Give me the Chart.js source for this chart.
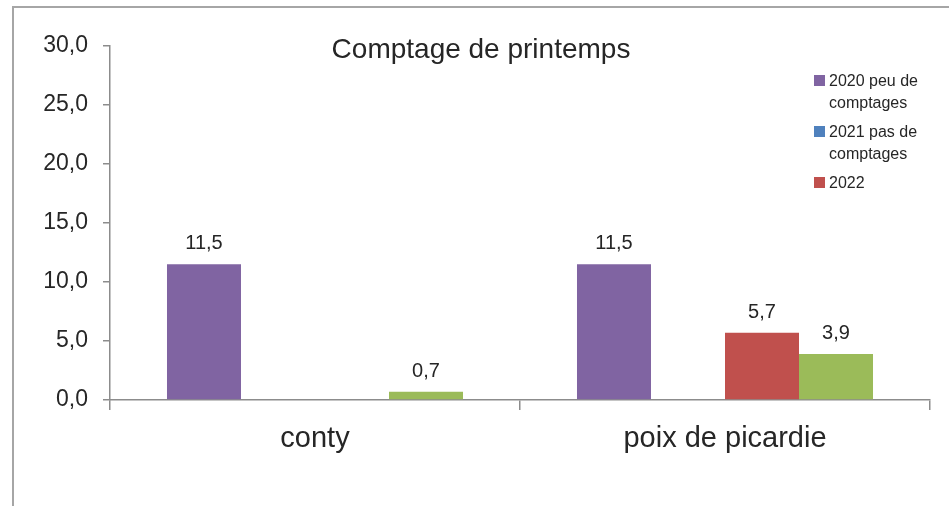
<!DOCTYPE html>
<html lang="fr">
<head>
    <meta charset="UTF-8">
    <title>Comptage de printemps</title>
    <script src="https://cdn.jsdelivr.net/npm/chart.js"></script>
    <style>
        html, body { margin: 0; padding: 0; background: #fff; overflow: hidden; }
        body { width: 949px; height: 506px; position: relative; font-family: "Liberation Sans", Arial, sans-serif; color: #262626; }
        .frame { position: absolute; left: 12px; top: 6px; width: 980px; height: 540px; border: 2px solid #a6a6a6; box-sizing: border-box; }
        .wrap { position: absolute; left: 0; top: 0; width: 949px; height: 506px; }
        .title { position: absolute; left: 481px; top: 33px; transform: translateX(-50%); font-size: 28px; white-space: nowrap; }
        .legend { position: absolute; left: 814px; top: 70px; font-size: 16px; }
        .legend .item { display: flex; align-items: flex-start; margin-bottom: 7px; }
        .legend .sq { width: 11px; height: 11px; margin-top: 5px; margin-right: 4px; flex: none; }
        .legend .txt { width: 100px; line-height: 22px; }
    </style>
</head>
<body>
<div class="frame"></div>
<div class="wrap"><canvas id="chart" width="949" height="506"></canvas></div>
<div class="title" id="title"></div>
<div class="legend" id="legend"></div>

<script>
    const chartTitle = 'Comptage de printemps';
    const categories = ['conty', 'poix de picardie'];
    const seriesNames = ['2020 peu de comptages', '2021 pas de comptages', '2022', '2023'];
    const seriesColors = ['#8064A2', '#4F81BD', '#C0504D', '#9BBB59'];
    const values2020 = [11.5, 11.5];
    const values2021 = [null, null];
    const values2022 = [null, 5.7];
    const values2023 = [0.7, 3.9];
    const yTicks = [0, 5, 10, 15, 20, 25, 30];
    const legendCount = 3; // the 4th entry is cut off in the original

    const fmt = v => v.toFixed(1).replace('.', ',');

    document.getElementById('title').textContent = chartTitle;

    const allValues = [values2020, values2021, values2022, values2023];
    const datasets = allValues.map((vals, i) => ({
        label: seriesNames[i],
        data: vals,
        backgroundColor: seriesColors[i],
        borderWidth: 0
    }));

    // legend (html, to get the wrapped labels)
    const legend = document.getElementById('legend');
    for (let i = 0; i < legendCount; i++) {
        const item = document.createElement('div');
        item.className = 'item';
        item.innerHTML = '<div class="sq" style="background:' + seriesColors[i] + '"></div><div class="txt">' + seriesNames[i] + '</div>';
        legend.appendChild(item);
    }

    const valueLabels = {
        id: 'valueLabels',
        afterDatasetsDraw(chart) {
            const ctx = chart.ctx;
            ctx.save();
            ctx.font = '20px "Liberation Sans", Arial, sans-serif';
            ctx.fillStyle = '#262626';
            ctx.textAlign = 'center';
            ctx.textBaseline = 'alphabetic';
            chart.data.datasets.forEach((ds, i) => {
                chart.getDatasetMeta(i).data.forEach((bar, j) => {
                    const v = ds.data[j];
                    if (v === null || v === undefined) return;
                    ctx.fillText(fmt(v), bar.x, bar.y - 15);
                });
            });
            ctx.restore();
        }
    };

    const axisColor = '#8c8c8c';

    new Chart(document.getElementById('chart'), {
        type: 'bar',
        data: { labels: categories, datasets: datasets },
        options: {
            responsive: false,
            animation: false,
            events: [],
            layout: { padding: { left: 0, right: 19, top: 46, bottom: 0 } },
            plugins: { legend: { display: false }, title: { display: false }, tooltip: { enabled: false } },
            datasets: { bar: { categoryPercentage: 0.722, barPercentage: 1.0 } },
            scales: {
                x: {
                    offset: true,
                    grid: { offset: true, drawOnChartArea: false, drawTicks: true, tickLength: 10, color: axisColor, lineWidth: 1.5 },
                    border: { color: axisColor, width: 1.5 },
                    ticks: { color: '#262626', font: { size: 29, family: '"Liberation Sans", Arial, sans-serif' }, padding: 12, maxRotation: 0 },
                    afterFit: s => { s.height = 106; }
                },
                y: {
                    min: 0,
                    max: 30,
                    afterBuildTicks: s => { s.ticks = yTicks.map(v => ({ value: v })); },
                    grid: { drawOnChartArea: false, drawTicks: true, tickLength: 7, color: axisColor, lineWidth: 1.5 },
                    border: { color: axisColor, width: 1.5 },
                    ticks: { color: '#262626', font: { size: 23, family: '"Liberation Sans", Arial, sans-serif' }, padding: 15, callback: v => fmt(v) },
                    afterFit: s => { s.width = 110; }
                }
            }
        },
        plugins: [valueLabels]
    });
</script>
</body>
</html>
